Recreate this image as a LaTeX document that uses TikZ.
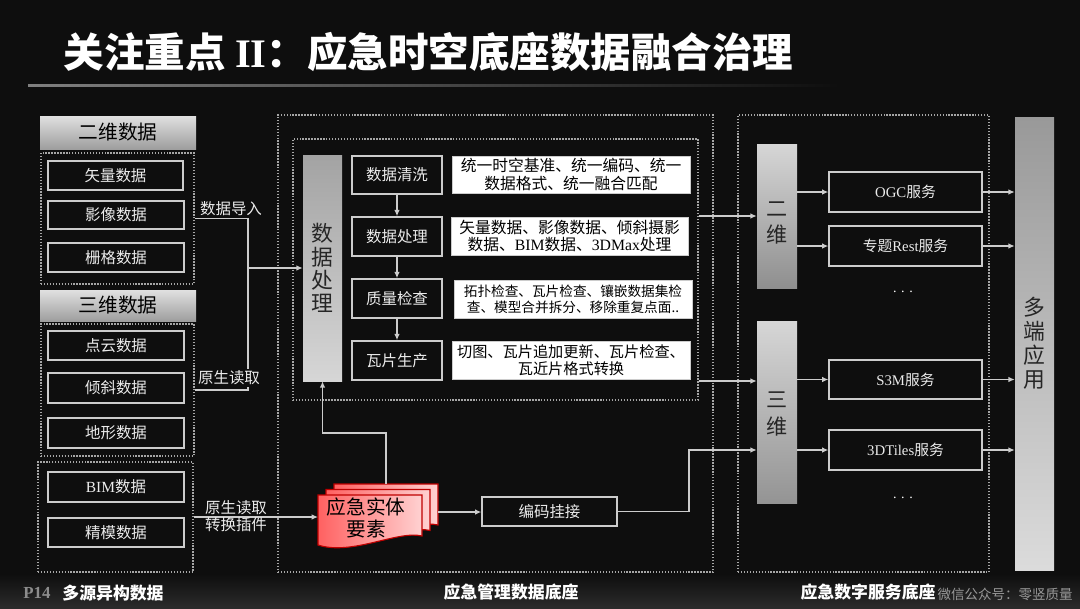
\documentclass[tikz,border=0pt]{standalone}
\usepackage{fontspec}
\setmainfont{Liberation Serif}
\newfontfamily\cjk{Noto Sans CJK SC}
\usetikzlibrary{arrows.meta}
\newcommand\lat[1]{{\rmfamily #1}}
\definecolor{bgdark}{HTML}{0E0E0E}

\begin{document}
\begin{tikzpicture}[x=0.025cm,y=-0.025cm]
	\def\px{0.025cm}
	\colorlet{line gray}{white!80!black}
	\colorlet{dot gray}{white!65!black}

	\tikzset{
		wh/.style 2 args={minimum width=#1*\px, minimum height=#2*\px, inner sep=0pt},
		conn/.style={draw=line gray, line width=0.9pt},
		arr/.style={conn, -{Latex[length=4.5pt,width=4pt]}},
		dotbox/.style={draw=dot gray, line width=0.9pt, dash pattern=on 1pt off 1.1pt},
		darkbox/.style={draw=line gray, line width=0.9pt, text=white!92!black, font=\cjk\fontsize{11}{13}\selectfont},
		stepbox/.style={darkbox, line width=1.1pt},
		descbox/.style={fill=white, draw=line gray, text=black, align=center, font=\cjk\fontsize{11.2}{12.2}\selectfont},
		header/.style={top color=white!88!black, bottom color=white!62!black, text=black, font=\cjk\fontsize{14}{16}\selectfont},
		bar/.style={text=black!85, align=center},
		lbl/.style={text=white!92!black, font=\cjk\fontsize{11}{12.5}\selectfont, inner sep=1pt, align=center},
		caption/.style={text=white, font=\cjk\bfseries\fontsize{12}{14}\selectfont},
		docfill/.style={left color=red!62!white, right color=red!18!white, draw=red!75!black, line width=0.8pt},
	}

	% background
	\fill[bgdark] (0,0) rectangle (1080,608);
	\useasboundingbox (0,0) rectangle (1080,608);
	\shade[top color=bgdark, bottom color=white!17!black] (0,574) rectangle (1080,608);

	% title
	\node[anchor=west, text=white, font=\cjk\bfseries\fontsize{28.8}{31}\selectfont] (title) at (59,52) {关注重点 \lat{II}：应急时空底座数据融合治理};
	\shade[left color=white!50!black, right color=bgdark] (28,84) rectangle (840,86);

	% multi-source data
	\node[header, wh={156}{33}] (h2d) at (118,132.5) {二维数据};
	\node[dotbox, wh={153}{131}] (d2) at (117.5,218.5) {};
	\node[darkbox, wh={135}{29}] (v1) at (115.5,175.5) {矢量数据};
	\node[darkbox, wh={136}{28}] (v2) at (116,215) {影像数据};
	\node[darkbox, wh={136}{29}] (v3) at (116,257.5) {栅格数据};

	\node[header, wh={156}{31}] (h3d) at (118,305.5) {三维数据};
	\node[dotbox, wh={153}{132}] (d3) at (117.5,390) {};
	\node[darkbox, wh={136}{29}] (p1) at (116,345.5) {点云数据};
	\node[darkbox, wh={136}{30}] (p2) at (116,388) {倾斜数据};
	\node[darkbox, wh={136}{30}] (p3) at (116,433) {地形数据};

	\node[dotbox, wh={155}{110}] (d4) at (115.5,517) {};
	\node[darkbox, wh={136}{30}] (b1) at (116,487) {\lat{BIM}数据};
	\node[darkbox, wh={136}{29}] (b2) at (116,532.5) {精模数据};

	% management base
	\node[dotbox, wh={435}{457}] (mid) at (495.5,343.5) {};
	\node[dotbox, wh={405}{261}] (inner) at (495.5,269.5) {};
	\node[bar, wh={39}{226}, top color=white!64!black, bottom color=white!84!black, font=\cjk\fontsize{15.5}{16.5}\selectfont] (proc) at (322.5,268) {数\\据\\处\\理};

	\node[stepbox, wh={90}{38}] (s1) at (397,175) {数据清洗};
	\node[stepbox, wh={90}{39}] (s2) at (397,236.5) {数据处理};
	\node[stepbox, wh={90}{39}] (s3) at (397,298.5) {质量检查};
	\node[stepbox, wh={90}{39}] (s4) at (397,360.5) {瓦片生产};

	\node[descbox, wh={238}{37}] (t1) at (571,174.5) {统一时空基准、统一编码、统一\\数据格式、统一融合匹配};
	\node[descbox, wh={237}{38}] (t2) at (569.5,236) {矢量数据、影像数据、倾斜摄影\\数据、\lat{BIM}数据、\lat{3DMax}处理};
	\node[descbox, wh={238}{38}, font=\cjk\fontsize{9.7}{11.5}\selectfont] (t3) at (573,299) {拓扑检查、瓦片检查、镶嵌数据集检\\查、模型合并拆分、移除重复点面..};
	\node[descbox, wh={238}{38}, font=\cjk\fontsize{10.8}{12}\selectfont] (t4) at (571,360) {切图、瓦片追加更新、瓦片检查、\\瓦近片格式转换};

	% entity stack
	\foreach \d/\e in {16/11,8/5.5,0/0} {
		\path[docfill] (318+\d,495-\e) -- (422+\d,495-\e) -- (422+\d,536-\e)
			.. controls (398+\d,530-\e) and (352+\d,556-\e) .. (318+\d,545-\e) -- cycle;
	}
	\node[text=black, align=center, font=\cjk\fontsize{14}{15.5}\selectfont] (ent) at (366,518) {应急实体\\要素};
	\coordinate (entTop) at (386,484);
	\coordinate (entR) at (438,512);
	\node[darkbox, wh={135}{29}] (enc) at (549.5,511.5) {编码挂接};

	% service base
	\node[dotbox, wh={251}{457}] (svc) at (863.5,343.5) {};
	\node[bar, wh={40}{144}, top color=white!84!black, bottom color=white!56!black] (dim2) at (777,216) {};
	\node[bar, font=\cjk\fontsize{15}{18}\selectfont] (dim2t) at (777,223) {二\\维};
	\node[bar, wh={40}{182}, top color=white!84!black, bottom color=white!58!black] (dim3) at (777,412) {};
	\node[bar, font=\cjk\fontsize{15}{18.5}\selectfont] (dim3t) at (777,414) {三\\维};

	\node[darkbox, wh={153}{40}, font=\cjk\fontsize{10.5}{12}\selectfont] (ogc) at (905.5,192) {\lat{OGC}服务};
	\node[darkbox, wh={153}{40}, font=\cjk\fontsize{10.5}{12}\selectfont] (rest) at (905.5,246) {专题\lat{Rest}服务};
	\node[darkbox, wh={153}{39}, font=\cjk\fontsize{10.5}{12}\selectfont] (s3m) at (905.5,379.5) {\lat{S3M}服务};
	\node[darkbox, wh={153}{40}, font=\cjk\fontsize{10.5}{12}\selectfont] (tiles) at (905.5,450) {\lat{3DTiles}服务};
	\node[text=white, font=\fontsize{10}{12}\selectfont] (dotsA) at (903,292) {.\,\,.\,\,.};
	\node[text=white, font=\fontsize{10}{12}\selectfont] (dotsB) at (903,498) {.\,\,.\,\,.};

	\node[bar, wh={39}{453}, top color=white!60!black, bottom color=white!86!black, font=\cjk\fontsize{15.5}{17}\selectfont] (multi) at (1034.5,343.5) {多\\端\\应\\用};

	% connectors, left
	\coordinate (jn) at (248,0);
	\draw[conn] (d2.east) -| (jn |- proc.west);
	\draw[conn] (d3.east) -| (jn |- proc.west);
	\draw[arr] (jn |- proc.west) -- (proc.west);
	\node[lbl] (lblA) at (231,209) {数据导入};
	\node[lbl, fill=bgdark] (lblB) at (229,378) {原生读取};
	\draw[arr] (d4.east) -- (d4.east -| 318,0);
	\node[lbl] (lblC) at (236,516) {原生读取\\转换插件};

	% connectors, middle
	\draw[arr] (s1) -- (s2);
	\draw[arr] (s2) -- (s3);
	\draw[arr] (s3) -- (s4);
	\coordinate (lvup) at (0,433);
	\draw[arr] (entTop) |- (proc.south |- lvup) -- (proc.south);
	\draw[arr] (entR) -- (entR -| enc.west);
	\coordinate (encUp) at (689,450);
	\draw[arr] (enc.east) -| (encUp) -- (encUp -| dim3.west);
	\coordinate (lv3) at (0,381);
	\draw[arr] (inner.east |- dim2.west) -- (dim2.west);
	\draw[arr] (inner.east |- lv3) -- (dim3.west |- lv3);

	% connectors, right
	\foreach \a/\b in {dim2/ogc, dim2/rest, dim3/s3m, dim3/tiles} {
		\draw[arr] (\a.east |- \b.west) -- (\b.west);
		\draw[arr] (\b.east) -- (multi.west |- \b.east);
	}

	% captions
	\node[text=white!55!black, font=\bfseries\fontsize{12}{14}\selectfont] (page) at (37,593) {P14};
	\node[caption] (capL) at (113,593) {多源异构数据};
	\node[caption] (capM) at (511,592) {应急管理数据底座};
	\node[caption] (capR) at (868,592) {应急数字服务底座};
	\node[text=white!60!black, font=\cjk\fontsize{9.6}{11}\selectfont] (wm) at (1005,594) {微信公众号：零竖质量};
\end{tikzpicture}
\end{document}
